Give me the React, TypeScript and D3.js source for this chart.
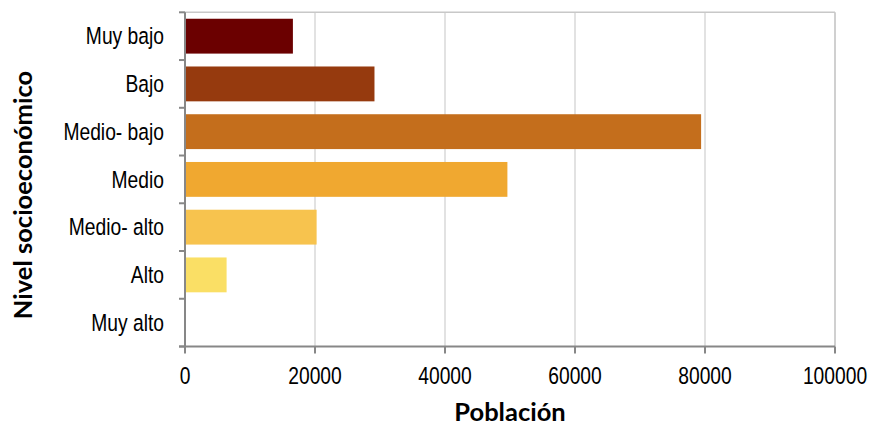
import React from "react";
import * as d3 from "d3";

const categories = ["Muy bajo", "Bajo", "Medio- bajo", "Medio", "Medio- alto", "Alto", "Muy alto"];
const values = [16600, 29150, 79400, 49600, 20250, 6400, 0];
const barColors = ["#6B0000", "#963A0E", "#C46E1C", "#F0A830", "#F7C34E", "#FADF65", "#FCEB8C"];
const xTicks = [0, 20000, 40000, 60000, 80000, 100000];
const xTitle = "Población";
const yTitle = "Nivel socioeconómico";

const W = 870;
const H = 425;
const left = 185;
const right = 835;
const top = 12.3;
const bottom = 346.5;
const narrow = "'Liberation Sans', Arial, sans-serif";
const squeeze = 0.82;
const boldFont = "Lato, 'Open Sans', sans-serif";

export default function App() {
  const x = d3.scaleLinear().domain([0, 100000]).range([left, right]);
  const y = d3.scaleBand<string>().domain(categories).range([top, bottom]).paddingInner(0.27).paddingOuter(0.135);
  const step = (bottom - top) / categories.length;
  const boundaries = d3.range(categories.length + 1).map((i) => top + i * step);

  return (
    <svg width={W} height={H} style={{ position: "absolute", left: 0, top: 0, background: "#fff" }}>
      {/* gridlines */}
      {xTicks.slice(1).map((t) => (
        <line key={"g" + t} x1={x(t)} x2={x(t)} y1={top} y2={bottom} stroke={t === 100000 ? "#C0C0C0" : "#D9D9D9"} strokeWidth={1.5} />
      ))}
      <line x1={left} x2={right} y1={top} y2={top} stroke="#C8C8C8" strokeWidth={1.5} />
      {/* bars */}
      {categories.map((c, i) => (
        <rect key={c} x={x(0)} y={y(c)} width={x(values[i]) - x(0)} height={y.bandwidth()} fill={barColors[i]} />
      ))}
      {/* axes */}
      <line x1={left} x2={left} y1={top} y2={bottom + 6} stroke="#878787" strokeWidth={2} />
      <line x1={left - 6} x2={right} y1={bottom} y2={bottom} stroke="#878787" strokeWidth={2} />
      {boundaries.map((b, i) => (
        <line key={"yt" + i} x1={left - 6} x2={left} y1={b} y2={b} stroke="#878787" strokeWidth={2} />
      ))}
      {xTicks.map((t) => (
        <line key={"xt" + t} x1={x(t)} x2={x(t)} y1={bottom} y2={bottom + 7} stroke="#878787" strokeWidth={2} />
      ))}
      {/* labels */}
      {categories.map((c) => (
        <text
          key={"l" + c}
          transform={`translate(164,${(y(c) as number) + y.bandwidth() / 2}) scale(${squeeze},1)`}
          dy="0.35em"
          textAnchor="end"
          fontFamily={narrow}
          fontSize={23.5}
          fill="#000"
        >
          {c}
        </text>
      ))}
      {xTicks.map((t) => (
        <text
          key={"xl" + t}
          transform={`translate(${x(t)},384.3) scale(${squeeze},1)`}
          textAnchor="middle"
          fontFamily={narrow}
          fontSize={23.5}
          fill="#000"
        >
          {t}
        </text>
      ))}
      <text x={(left + right) / 2} y={421} textAnchor="middle" fontFamily={boldFont} fontWeight="bold" fontSize={25.5} fill="#000">
        {xTitle}
      </text>
      <text transform={`translate(32,195) rotate(-90)`} textAnchor="middle" fontFamily={boldFont} fontWeight="bold" fontSize={25.5} fill="#000">
        {yTitle}
      </text>
    </svg>
  );
}
